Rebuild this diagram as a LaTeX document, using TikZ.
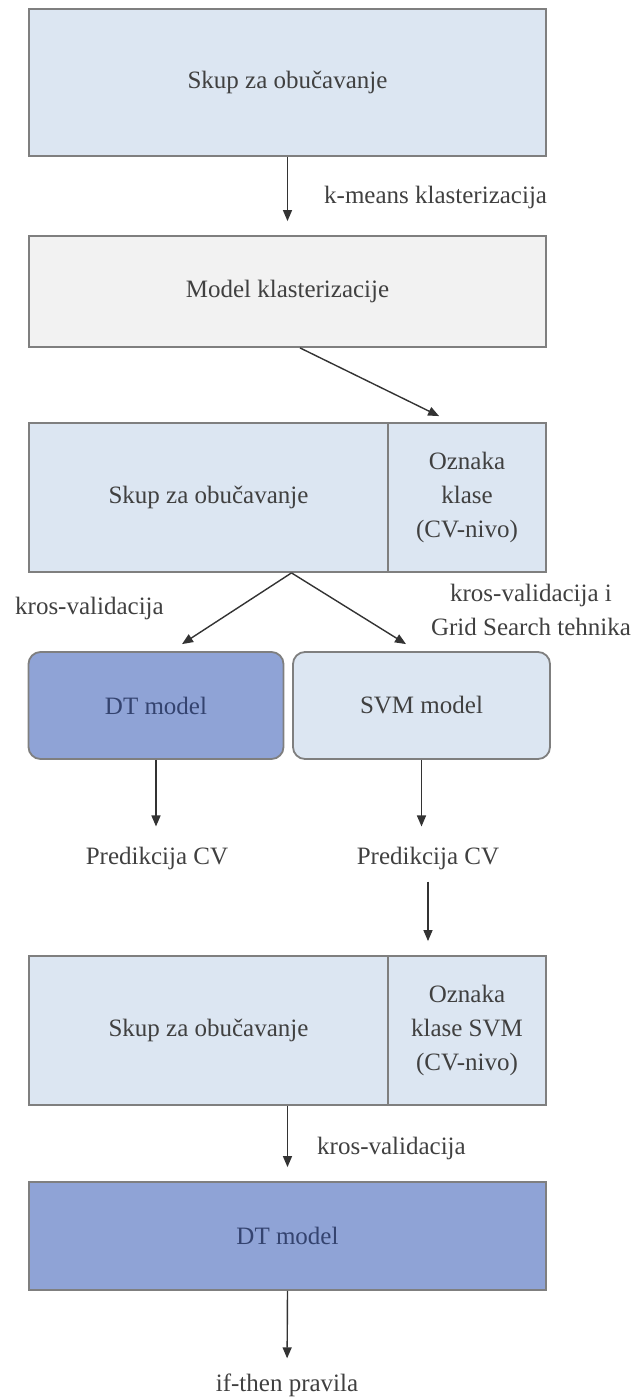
\documentclass[tikz,border=0pt]{standalone}
\usepackage{fontspec}
\setmainfont{Liberation Serif}
\usetikzlibrary{arrows.meta,calc}

\definecolor{edge}{HTML}{7F7F7F}
\definecolor{paleblue}{HTML}{DCE6F2}
\definecolor{palegray}{HTML}{F2F2F2}
\definecolor{midblue}{HTML}{8FA3D6}
\definecolor{ink}{HTML}{404040}
\definecolor{deepink}{HTML}{34436F}
\definecolor{arrowink}{HTML}{333333}

\begin{document}
\begin{tikzpicture}[x=1pt,y=-1pt,
  lbl/.style={font=\fontsize{25}{34}\selectfont, text=ink, align=center, inner sep=0pt},
  box/.style={lbl, draw=edge, line width=1.8pt, minimum width=517pt},
  bluebox/.style={box, fill=paleblue},
  graybox/.style={box, fill=palegray},
  rbox/.style={box, rounded corners=12pt, minimum width=255pt, minimum height=107pt},
  link/.style={draw=arrowink, line width=1.4pt, -{Triangle[length=11pt,width=9pt]}}
]
\useasboundingbox (0,0) rectangle (639,1399);

% training set and clustering model
\node[bluebox, minimum height=147pt] (b1) at (287.5,82.5) {Skup za obučavanje};
\node[graybox, minimum height=111pt] (b2) at (287.5,291.5) {Model klasterizacije};

% training set with cluster label
\node[bluebox, minimum width=359pt, minimum height=149pt] (b3l) at (208.5,497.5) {Skup za obučavanje};
\node[bluebox, minimum width=158pt, minimum height=149pt] (b3r) at (467,497.5) {Oznaka\\klase\\(CV-nivo)};

% classifiers
\node[rbox, fill=midblue, text=deepink] (dt) at (156,705.5) {DT model};
\node[rbox, fill=paleblue, minimum width=257pt] (svm) at (421.5,705.5) {SVM model};

\node[lbl] (predL) at (157,858) {Predikcija CV};
\node[lbl] (predR) at (428,858) {Predikcija CV};

% training set with SVM label
\node[bluebox, minimum width=359pt, minimum height=149pt] (b4l) at (208.5,1030.5) {Skup za obučavanje};
\node[bluebox, minimum width=158pt, minimum height=149pt] (b4r) at (467,1030.5) {Oznaka\\klase SVM\\(CV-nivo)};

% final decision tree
\node[box, fill=midblue, text=deepink, minimum height=108pt] (b5) at (287.5,1236) {DT model};
\node[lbl] (rules) at (287,1385) {if-then pravila};

% edge labels
\node[lbl, anchor=west] (kmeans) at (324,197) {k-means klasterizacija};
\node[lbl, anchor=west] (cvL) at (15,608) {kros-validacija};
\node[lbl] (cvR) at (531,610) {kros-validacija i\\Grid Search tehnika};
\node[lbl, anchor=west] (cv2) at (317,1148) {kros-validacija};

% connectors
\draw[link, shorten >=14pt] (b1.south) -- (b2.north);
\draw[link] ($(b2.south)+(12.5,0)$) -- ($(b3r.north west)+(52,-6)$);
\coordinate (fan) at ($(b3l.south)+(83,0)$);
\draw[link] (fan) -- ($(dt.north)+(26,-7)$);
\draw[link] (fan) -- ($(svm.north)+(-15.5,-7)$);
\draw[link, shorten >=20pt] (dt.south) -- (dt.south |- predL.north);
\draw[link, shorten >=20pt] (svm.south) -- (svm.south |- predR.north);
\draw[link, shorten <=12pt, shorten >=14pt] (predR.south) -- (predR.south |- b4r.north);
\draw[link, shorten >=14pt] (b5.north |- b4l.south) -- (b5.north);
\draw[link, shorten >=15pt] (b5.south) -- (rules.north);
\end{tikzpicture}
\end{document}
